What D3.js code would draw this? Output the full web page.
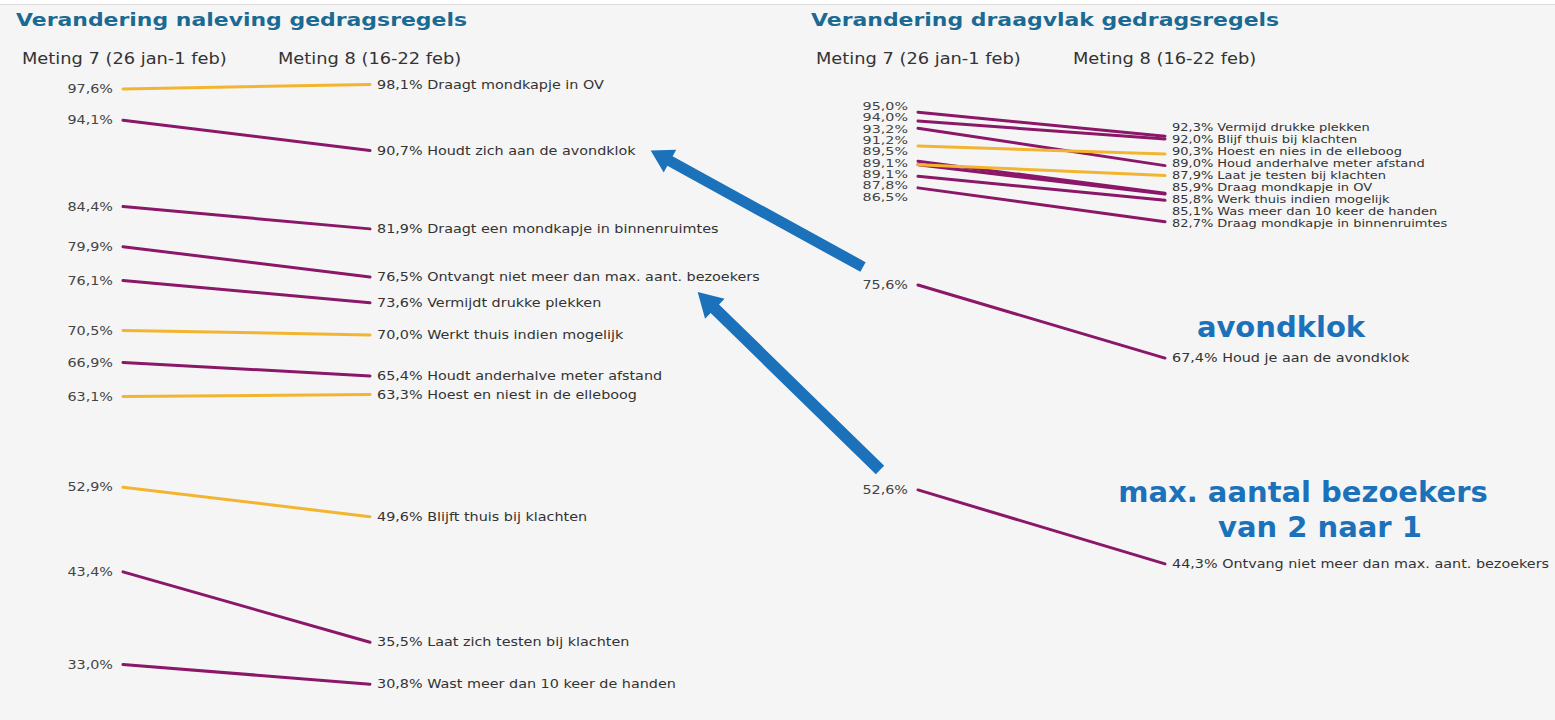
<!DOCTYPE html>
<html>
<head>
<meta charset="utf-8">
<script src="https://cdn.jsdelivr.net/npm/d3@7"></script>
<style>
  body { margin: 0; background: #fff; }
  svg { display: block; font-family: "DejaVu Sans", Verdana, sans-serif; }
</style>
</head>
<body>
<script>
const width = 1555
const height = 720

const metingen = ["Meting 7 (26 jan-1 feb)", "Meting 8 (16-22 feb)"]

// naleving (left panel)
const nalevingTitel = "Verandering naleving gedragsregels"
const nalevingRegels = [
  "Draagt mondkapje in OV",
  "Houdt zich aan de avondklok",
  "Draagt een mondkapje in binnenruimtes",
  "Ontvangt niet meer dan max. aant. bezoekers",
  "Vermijdt drukke plekken",
  "Werkt thuis indien mogelijk",
  "Houdt anderhalve meter afstand",
  "Hoest en niest in de elleboog",
  "Blijft thuis bij klachten",
  "Laat zich testen bij klachten",
  "Wast meer dan 10 keer de handen"
]
const nalevingM7 = [97.6, 94.1, 84.4, 79.9, 76.1, 70.5, 66.9, 63.1, 52.9, 43.4, 33.0]
const nalevingM8 = [98.1, 90.7, 81.9, 76.5, 73.6, 70.0, 65.4, 63.3, 49.6, 35.5, 30.8]
const nalevingSignificant = [false, true, true, true, true, false, true, false, false, true, true]

// draagvlak (right panel)
const draagvlakTitel = "Verandering draagvlak gedragsregels"
const draagvlakRegels = [
  "Vermijd drukke plekken",
  "Blijf thuis bij klachten",
  "Houd anderhalve meter afstand",
  "Hoest en nies in de elleboog",
  "Draag mondkapje in OV",
  "Werk thuis indien mogelijk",
  "Laat je testen bij klachten",
  "Was meer dan 10 keer de handen",
  "Draag mondkapje in binnenruimtes",
  "Houd je aan de avondklok",
  "Ontvang niet meer dan max. aant. bezoekers"
]
const draagvlakM7 = [95.0, 94.0, 93.2, 91.2, 89.5, 89.1, 89.1, 87.8, 86.5, 75.6, 52.6]
const draagvlakM8 = [92.3, 92.0, 89.0, 90.3, 85.9, 85.8, 87.9, 85.1, 82.7, 67.4, 44.3]
const draagvlakSignificant = [true, true, true, false, true, true, false, true, true, true, true]

const annotatieAvondklok = ["avondklok"]
const annotatieBezoekers = ["max. aantal bezoekers", "van 2 naar 1"]

const purple = "#8b1768"
const orange = "#f3b530"
const titleColor = "#1b6a93"
const blue = "#1b72ba"

const fmt = v => d3.format(".1f")(v).replace(".", ",") + "%"

const y = d3.scaleLinear().domain([30, 100]).range([691.3, 67.6])

const svg = d3.select("body").append("svg")
    .attr("width", width)
    .attr("height", height)

svg.append("rect").attr("x", 0).attr("y", 4).attr("width", width).attr("height", height - 4)
    .attr("fill", "#f5f5f5")
svg.append("line").attr("x1", 0).attr("x2", width).attr("y1", 4.5).attr("y2", 4.5)
    .attr("stroke", "#dcdcdc")

// stretched text helper (the source is wide, Verdana-like)
function stext(g, str, x, yy, size, sx, opts = {}) {
  const t = g.append("text")
      .attr("transform", `translate(${x},${yy}) scale(${sx},1)`)
      .attr("font-size", size)
      .attr("fill", opts.fill || "#333")
      .attr("font-weight", opts.weight || "normal")
      .attr("text-anchor", opts.anchor || "start")
      .attr("dy", opts.dy || null)
      .text(str)
  return t
}

// spread overlapping labels evenly around the mean of their targets
function dodge(targets, gap) {
  const idx = d3.range(targets.length).sort((a, b) => targets[a] - targets[b])
  const groups = idx.map(i => ({ids: [i]}))
  const place = g => { g.start = d3.mean(g.ids, i => targets[i]) - (g.ids.length - 1) * gap / 2 }
  groups.forEach(place)
  let merged = true
  while (merged) {
    merged = false
    for (let k = 0; k < groups.length - 1; k++) {
      const a = groups[k], b = groups[k + 1]
      if (a.start + a.ids.length * gap > b.start) {
        a.ids = a.ids.concat(b.ids)
        place(a)
        groups.splice(k + 1, 1)
        merged = true
        break
      }
    }
  }
  const pos = [], size = []
  groups.forEach(g => g.ids.forEach((i, j) => { pos[i] = g.start + j * gap; size[i] = g.ids.length }))
  return {pos, size}
}

function drawPanel(p) {
  const g = svg.append("g")
  const x = d3.scalePoint().domain(metingen).range(p.range)

  stext(g, p.title, p.titleX, 26, 18, 1.22, {weight: "bold", fill: titleColor})
  metingen.forEach((m, i) => stext(g, m, p.headX[i], 63.5, 16.5, 1.08, {fill: "#333"}))

  const data = p.regels.map((r, i) => ({regel: r, a: p.m7[i], b: p.m8[i], sig: p.sig[i]}))

  g.append("g")
    .selectAll("line")
    .data(data)
    .join("line")
      .attr("x1", x(metingen[0]))
      .attr("x2", x(metingen[1]))
      .attr("y1", d => y(d.a))
      .attr("y2", d => y(d.b))
      .attr("stroke", d => d.sig ? purple : orange)
      .attr("stroke-width", 3)
      .attr("stroke-linecap", "round")

  const left = dodge(data.map(d => y(d.a)), p.gapLeft)
  const right = dodge(data.map(d => y(d.b)), p.gapRight)

  const labels = []
  data.forEach((d, i) => {
    const small = left.size[i] > 1
    stext(g, fmt(d.a), x(metingen[0]) - 10, left.pos[i], small ? 11 : 11.5, small ? 1.3 : 1.25,
      {anchor: "end", dy: "0.36em", fill: "#444"})
    const smallR = right.size[i] > 1
    const sx = smallR ? 1.3 : 1.25
    const t = stext(g, fmt(d.b) + " " + d.regel, x(metingen[1]) + 7, right.pos[i], smallR ? 10 : 11.5, sx,
      {dy: "0.36em", fill: "#333"})
    labels.push({t, x: x(metingen[1]) + 7, w: t.node().getComputedTextLength() * sx, y: right.pos[i]})
  })
  return {x, labels, data}
}

const L = drawPanel({
  title: nalevingTitel, titleX: 16, headX: [22, 278], range: [123, 370],
  regels: nalevingRegels, m7: nalevingM7, m8: nalevingM8, sig: nalevingSignificant,
  gapLeft: 11.3, gapRight: 12
})
const R = drawPanel({
  title: draagvlakTitel, titleX: 811, headX: [816, 1073], range: [918, 1165],
  regels: draagvlakRegels, m7: draagvlakM7, m8: draagvlakM8, sig: draagvlakSignificant,
  gapLeft: 11.3, gapRight: 12
})

// annotation arrows
function arrow(x1, y1, x2, y2, shaft, headW, headL) {
  const dx = x2 - x1, dy = y2 - y1, len = Math.hypot(dx, dy)
  const ux = dx / len, uy = dy / len, nx = -uy, ny = ux
  const bx = x2 - ux * headL, by = y2 - uy * headL
  const pts = [
    [x1 + nx * shaft / 2, y1 + ny * shaft / 2],
    [bx + nx * shaft / 2, by + ny * shaft / 2],
    [bx + nx * headW / 2, by + ny * headW / 2],
    [x2, y2],
    [bx - nx * headW / 2, by - ny * headW / 2],
    [bx - nx * shaft / 2, by - ny * shaft / 2],
    [x1 - nx * shaft / 2, y1 - ny * shaft / 2]
  ]
  svg.append("path").attr("d", d3.line()(pts) + "Z").attr("fill", blue)
}

const avondL = L.labels[1]
const bezoekL = L.labels[3]
const rx0 = R.x(metingen[0])
arrow(rx0 - 55, y(draagvlakM7[9]) - 18, avondL.x + avondL.w + 15, y(nalevingM8[1]), 11, 26, 22)
arrow(rx0 - 38, y(draagvlakM7[10]) - 20, bezoekL.x + bezoekL.w - 62, y(nalevingM8[3]) + 15, 12, 28, 24)

// annotation texts
const labAv = R.labels[9], labBz = R.labels[10]
svg.append("text")
    .attr("x", labAv.x + 109).attr("y", y(draagvlakM8[9]) - 21)
    .attr("text-anchor", "middle").attr("font-size", 29).attr("font-weight", "bold")
    .attr("fill", blue).text(annotatieAvondklok[0])
annotatieBezoekers.forEach((s, i) => {
  svg.append("text")
      .attr("x", labBz.x + (i ? 148 : 131)).attr("y", y(draagvlakM8[10]) - 62 + i * 35)
      .attr("text-anchor", "middle").attr("font-size", 29).attr("font-weight", "bold")
      .attr("fill", blue).text(s)
})
</script>
</body>
</html>
